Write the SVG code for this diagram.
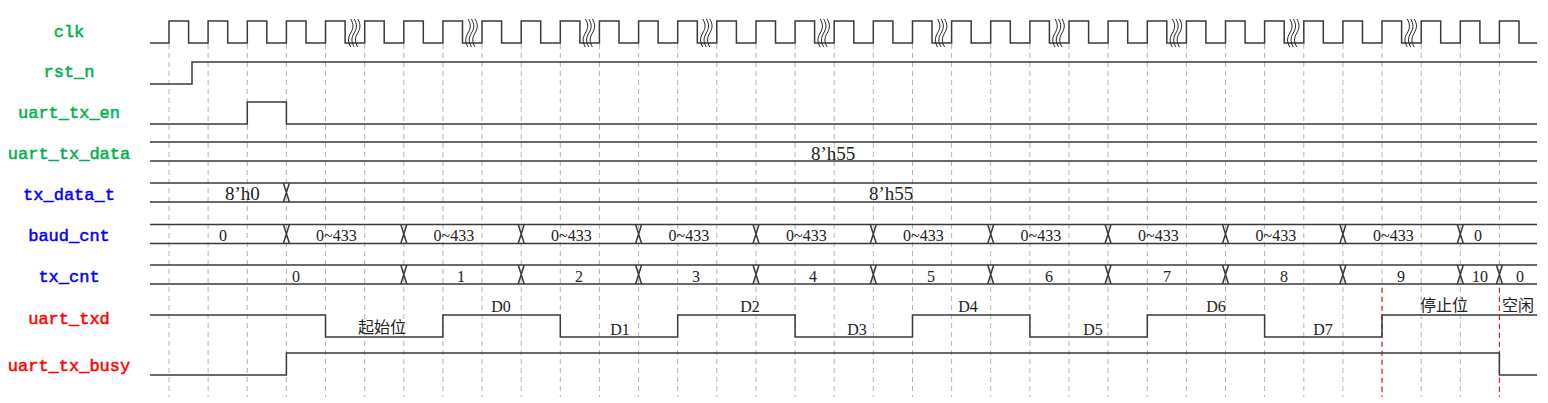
<svg xmlns="http://www.w3.org/2000/svg" xmlns:xlink="http://www.w3.org/1999/xlink" width="1548" height="403" viewBox="0 0 1548 403">
<style>
.lbl{font-family:"Liberation Mono","DejaVu Sans Mono",monospace;font-size:17px;text-anchor:middle;stroke-width:0.5}
.g{fill:#00b050;stroke:#00b050}.b{fill:#0000ff;stroke:#0000ff}.r{fill:#ff0000;stroke:#ff0000}
.w{fill:none;stroke:#3a3a3a;stroke-width:1.5}
.grid{fill:none;stroke:#b4b4b4;stroke-width:1;stroke-dasharray:5,4}
.red{fill:none;stroke:#ff0000;stroke-width:1;stroke-dasharray:5,4}
.v{font-family:"Liberation Serif","Times New Roman",serif;font-size:16px;fill:#222}
.h{font-family:"Liberation Serif","Times New Roman",serif;font-size:19px;fill:#222}
.c{font-family:"Liberation Serif","Noto Sans CJK SC",sans-serif;font-size:16px;fill:#222;text-anchor:middle}
.m{text-anchor:middle}
.sq{fill:none;stroke:#222;stroke-width:1}
</style>
<defs>
<path id="bx" class="w" d="M-3,0 L3,19 M3,0 L-3,19"/>
<path id="brk" class="sq" d="M-14,19 c3,5 3,9 0,14 c-3,5 -3,9 0,14 M-10.5,19 c3,5 3,9 0,14 c-3,5 -3,9 0,14 M-7,19 c3,5 3,9 0,14 c-3,5 -3,9 0,14"/>
</defs>
<rect width="1548" height="403" fill="#ffffff"/>

<g id="grid">
<path class="grid" d="M169,44V397M208.1,44V397M247.3,44V397M286.4,44V397M325.5,44V397M364.7,44V397M403.8,44V397M442.9,44V397M482,44V397M521.2,44V397M560.3,44V397M599.4,44V397M638.6,44V397M677.7,44V397M716.8,44V397M756,44V397M795.1,44V397M834.2,44V397M873.3,44V397M912.5,44V397M951.6,44V397M990.7,44V397M1029.9,44V397M1069,44V397M1108.1,44V397M1147.3,44V397M1186.4,44V397M1225.5,44V397M1264.6,44V397M1303.8,44V397M1342.9,44V397M1382,44V397M1421.2,44V397M1460.3,44V397M1499.4,44V397"/>
<path class="red" d="M1382,288V397M1499.4,288V397"/>
</g>

<g id="clk">
<text class="lbl g" x="69" y="37">clk</text>
<path class="w" d="M150,43H169V21H188.6V43H208.1V21H227.7V43H247.3V21H266.8V43H286.4V21H306V43H325.5V21H345.1V43H364.7V21H384.2V43H403.8V21H423.3V43H442.9V21H462.5V43H482V21H501.6V43H521.2V21H540.7V43H560.3V21H579.9V43H599.4V21H619V43H638.6V21H658.1V43H677.7V21H697.3V43H716.8V21H736.4V43H756V21H775.5V43H795.1V21H814.6V43H834.2V21H853.8V43H873.3V21H892.9V43H912.5V21H932V43H951.6V21H971.2V43H990.7V21H1010.3V43H1029.9V21H1049.4V43H1069V21H1088.6V43H1108.1V21H1127.7V43H1147.3V21H1166.8V43H1186.4V21H1205.9V43H1225.5V21H1245.1V43H1264.6V21H1284.2V43H1303.8V21H1323.3V43H1342.9V21H1362.5V43H1382V21H1401.6V43H1421.2V21H1440.7V43H1460.3V21H1479.9V43H1499.4V21H1519V43H1537"/>
<use xlink:href="#brk" x="364.7"/>
<use xlink:href="#brk" x="482"/>
<use xlink:href="#brk" x="599.4"/>
<use xlink:href="#brk" x="716.8"/>
<use xlink:href="#brk" x="834.2"/>
<use xlink:href="#brk" x="951.6"/>
<use xlink:href="#brk" x="1069"/>
<use xlink:href="#brk" x="1186.4"/>
<use xlink:href="#brk" x="1303.8"/>
<use xlink:href="#brk" x="1421.2"/>
</g>

<g id="rst_n">
<text class="lbl g" x="69" y="77">rst_n</text>
<path class="w" d="M150,84H192V62H1537"/>
</g>

<g id="uart_tx_en">
<text class="lbl g" x="69" y="118">uart_tx_en</text>
<path class="w" d="M150,124H247.3V102H286.4V124H1537"/>
</g>

<g id="uart_tx_data">
<text class="lbl g" x="69" y="159">uart_tx_data</text>
<path class="w" d="M150,142H1537M150,161H1537"/>
<text class="h" x="811" y="160">8’h55</text>
</g>

<g id="tx_data_t">
<text class="lbl b" x="69" y="200">tx_data_t</text>
<path class="w" d="M150,183H1537M150,202H1537"/>
<use xlink:href="#bx" x="286.4" y="183"/>
<text class="h" x="225" y="200">8’h0</text>
<text class="h" x="869" y="200">8’h55</text>
</g>

<g id="baud_cnt">
<text class="lbl b" x="69" y="241">baud_cnt</text>
<path class="w" d="M150,224.5H1537M150,243.5H1537"/>
<use xlink:href="#bx" x="286.4" y="224.5"/>
<use xlink:href="#bx" x="403.8" y="224.5"/>
<use xlink:href="#bx" x="521.2" y="224.5"/>
<use xlink:href="#bx" x="638.6" y="224.5"/>
<use xlink:href="#bx" x="756" y="224.5"/>
<use xlink:href="#bx" x="873.3" y="224.5"/>
<use xlink:href="#bx" x="990.7" y="224.5"/>
<use xlink:href="#bx" x="1108.1" y="224.5"/>
<use xlink:href="#bx" x="1225.5" y="224.5"/>
<use xlink:href="#bx" x="1342.9" y="224.5"/>
<use xlink:href="#bx" x="1460.3" y="224.5"/>
<text class="v m" x="223" y="241">0</text>
<text class="v" x="316" y="241">0~433</text>
<text class="v" x="433.5" y="241">0~433</text>
<text class="v" x="551" y="241">0~433</text>
<text class="v" x="668.5" y="241">0~433</text>
<text class="v" x="786" y="241">0~433</text>
<text class="v" x="903" y="241">0~433</text>
<text class="v" x="1020.5" y="241">0~433</text>
<text class="v" x="1138" y="241">0~433</text>
<text class="v" x="1255.5" y="241">0~433</text>
<text class="v" x="1373" y="241">0~433</text>
<text class="v" x="1474" y="241">0</text>
</g>

<g id="tx_cnt">
<text class="lbl b" x="69" y="282">tx_cnt</text>
<path class="w" d="M150,265H1537M150,284H1537"/>
<use xlink:href="#bx" x="403.8" y="265"/>
<use xlink:href="#bx" x="521.2" y="265"/>
<use xlink:href="#bx" x="638.6" y="265"/>
<use xlink:href="#bx" x="756" y="265"/>
<use xlink:href="#bx" x="873.3" y="265"/>
<use xlink:href="#bx" x="990.7" y="265"/>
<use xlink:href="#bx" x="1108.1" y="265"/>
<use xlink:href="#bx" x="1225.5" y="265"/>
<use xlink:href="#bx" x="1342.9" y="265"/>
<use xlink:href="#bx" x="1460.3" y="265"/>
<use xlink:href="#bx" x="1499.4" y="265"/>
<text class="v m" x="296" y="282">0</text>
<text class="v m" x="461" y="282">1</text>
<text class="v m" x="579" y="282">2</text>
<text class="v m" x="696" y="282">3</text>
<text class="v m" x="813" y="282">4</text>
<text class="v m" x="931" y="282">5</text>
<text class="v m" x="1049" y="282">6</text>
<text class="v m" x="1167" y="282">7</text>
<text class="v m" x="1284" y="282">8</text>
<text class="v m" x="1401" y="282">9</text>
<text class="v m" x="1480" y="282">10</text>
<text class="v m" x="1520" y="282">0</text>
</g>

<g id="uart_txd">
<text class="lbl r" x="69" y="324">uart_txd</text>
<path class="w" d="M150,315H325.5V337H442.9V315H560.3V337H677.7V315H795.1V337H912.5V315H1029.9V337H1147.3V315H1264.6V337H1382V315H1537"/>
<text class="c" x="382" y="333">起始位</text>
<text class="v m" x="501" y="312">D0</text>
<text class="v m" x="620" y="335">D1</text>
<text class="v m" x="750" y="312">D2</text>
<text class="v m" x="857" y="335">D3</text>
<text class="v m" x="968" y="312">D4</text>
<text class="v m" x="1093" y="335">D5</text>
<text class="v m" x="1216" y="312">D6</text>
<text class="v m" x="1323" y="335">D7</text>
<text class="c" x="1444" y="311">停止位</text>
<text class="c" x="1518" y="311">空闲</text>
</g>

<g id="uart_tx_busy">
<text class="lbl r" x="69" y="371">uart_tx_busy</text>
<path class="w" d="M150,375H286.4V353H1499.4V375H1537"/>
</g>
</svg>
